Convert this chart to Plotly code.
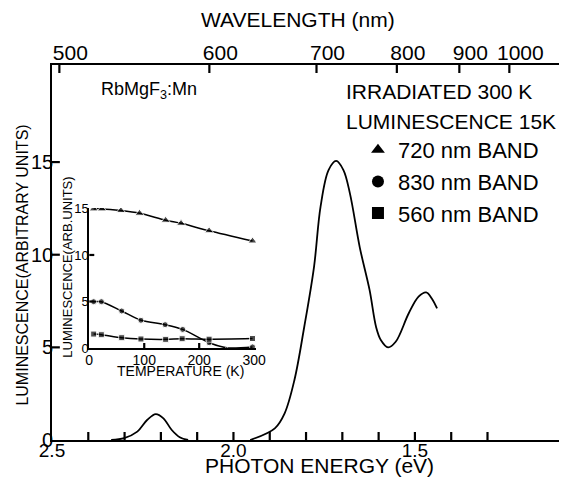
import plotly.graph_objects as go

# ---- main spectrum (photon energy eV, luminescence arb. units) ----
small_energy = [2.337, 2.301, 2.265, 2.238, 2.214, 2.193, 2.170, 2.148, 2.125]
small_lum = [0.0, 0.1, 0.45, 1.08, 1.4, 1.17, 0.54, 0.15, 0.0]

main_energy = [1.954, 1.886, 1.859, 1.832, 1.805, 1.778, 1.760, 1.738, 1.717,
               1.697, 1.679, 1.652, 1.625, 1.607, 1.594, 1.574, 1.553, 1.517,
               1.490, 1.469, 1.454, 1.439]
main_lum = [0.0, 0.63, 1.44, 3.24, 6.1, 9.35, 12.6, 14.57, 15.06,
            14.57, 13.3, 10.4, 8.1, 6.1, 5.4, 5.0, 5.3, 6.84,
            7.74, 7.97, 7.65, 7.1]

energy_ticks = [2.5, 2.4, 2.3, 2.2, 2.1, 2.0, 1.9, 1.8, 1.7, 1.6, 1.5, 1.4, 1.3]
energy_labels = {2.5: "2.5", 2.0: "2.0", 1.5: "1.5"}
wavelength_ticks = [500, 600, 700, 800, 900, 1000]
lum_ticks = [0, 5, 10, 15]
energy_range = [2.5, 1.103]
lum_range = [0, 20.24]

# ---- inset: temperature dependence ----
t720 = [8, 23, 57.5, 91.5, 139, 167, 218, 297]
v720 = [14.95, 14.95, 14.77, 14.48, 13.73, 13.4, 12.6, 11.5]
t830 = [8, 22, 59, 94, 138, 170, 218, 250, 297]
v830 = [4.98, 4.98, 3.98, 2.98, 2.51, 2.0, 0.57, 0.03, 0.12]
t560 = [8, 22, 59, 94, 139, 169, 218, 297]
v560 = [1.5, 1.43, 1.11, 0.97, 0.93, 1.0, 0.95, 1.02]
temp_ticks = [0, 100, 200, 300]
inset_lum_ticks = [0, 5, 10, 15]
temp_range = [0, 303]
inset_lum_range = [0, 15.05]

FONT = "Liberation Sans, Arial, sans-serif"
BLACK = "#000000"
wl_energy = [1239.84 / w for w in wavelength_ticks]

fig = go.Figure()

fig.add_trace(go.Scatter(x=small_energy, y=small_lum, mode="lines",
                         line=dict(color=BLACK, width=1.8, shape="spline"),
                         showlegend=False, hoverinfo="skip"))
fig.add_trace(go.Scatter(x=main_energy, y=main_lum, mode="lines",
                         line=dict(color=BLACK, width=1.8, shape="spline"),
                         showlegend=False, hoverinfo="skip"))
# invisible trace to activate the top wavelength axis
fig.add_trace(go.Scatter(x=[main_energy[0]], y=[0], xaxis="x2", mode="markers",
                         marker=dict(opacity=0), showlegend=False, hoverinfo="skip"))

series = [
    ("720 nm BAND", t720, v720, "triangle-up", 8),
    ("830 nm BAND", t830, v830, "circle", 6),
    ("560 nm BAND", t560, v560, "square", 6),
]
for name, t, v, sym, sz in series:
    sizes = [sz] * len(t)
    if name.startswith("830"):
        sizes[7] = 2
    fig.add_trace(go.Scatter(x=t, y=v, xaxis="x3", yaxis="y3", mode="lines+markers",
                             line=dict(color=BLACK, width=1.5, shape="spline", smoothing=0.8),
                             marker=dict(symbol=sym, size=sizes, color=BLACK),
                             showlegend=False, hoverinfo="skip"))
    fig.add_trace(go.Scatter(x=[None], y=[None], xaxis="x3", yaxis="y3", mode="markers",
                             marker=dict(symbol=sym, size=6, color=BLACK),
                             name=name, legendgroup=name))

# ---- inward tick marks, placed through the axes' own scales ----
TICK = dict(color=BLACK, width=2.2)
MAIN_W, MAIN_H = 517, 375
TL = 8
for e in energy_ticks[1:]:          # bottom, pointing up
    fig.add_shape(type="line", xref="x", yref="y domain", x0=e, x1=e,
                  y0=0, y1=TL / MAIN_H, line=TICK)
for e in wl_energy:                 # top, pointing down
    fig.add_shape(type="line", xref="x", yref="y domain", x0=e, x1=e,
                  y0=1, y1=1 - TL / MAIN_H, line=TICK)
for v in lum_ticks[1:]:             # left, pointing right
    fig.add_shape(type="line", xref="x domain", yref="y", x0=0, x1=TL / MAIN_W,
                  y0=v, y1=v, line=TICK)
for t in temp_ticks[1:3]:           # inset bottom
    fig.add_shape(type="line", xref="x3", yref="y3 domain", x0=t, x1=t,
                  y0=0, y1=0.035, line=TICK)
for v in inset_lum_ticks[1:3]:      # inset left
    fig.add_shape(type="line", xref="x3 domain", yref="y3", x0=0, x1=0.03,
                  y0=v, y1=v, line=TICK)

axis_common = dict(showgrid=False, zeroline=False, showline=True, linecolor=BLACK,
                   linewidth=1.7, ticks="", tickmode="array")

fig.update_layout(
    width=569, height=483,
    margin=dict(l=52, r=0, t=65, b=43),
    paper_bgcolor="white", plot_bgcolor="white",
    font=dict(family=FONT, color=BLACK),
    xaxis=dict(**axis_common, range=energy_range, tickvals=energy_ticks,
               ticktext=[energy_labels.get(t, "") for t in energy_ticks],
               tickfont=dict(size=19), ticklabelstandoff=-8, anchor="y"),
    xaxis2=dict(**axis_common, overlaying="x", side="top", anchor="y",
                range=energy_range, tickvals=wl_energy,
                ticktext=[str(w) for w in wavelength_ticks],
                tickfont=dict(size=21), ticklabelstandoff=-5, ticklabelshift=-11),
    yaxis=dict(**axis_common, range=lum_range, tickvals=lum_ticks,
               tickfont=dict(size=20), ticklabelstandoff=-7),
    xaxis3=dict(**axis_common, domain=[0.0735, 0.402], anchor="y3",
                range=temp_range, tickvals=temp_ticks, tickfont=dict(size=14),
                ticklabelstandoff=-2),
    yaxis3=dict(**axis_common, domain=[0.2453, 0.6187], anchor="x3",
                range=inset_lum_range, tickvals=inset_lum_ticks,
                tickfont=dict(size=13), ticklabelstandoff=-4),
    legend=dict(x=(364 - 52) / 517, y=(440 - 129) / 375, xanchor="left", yanchor="top",
                font=dict(size=22), bgcolor="rgba(0,0,0,0)", tracegroupgap=0,
                itemsizing="constant"),
)

ann = [
    dict(text="WAVELENGTH (nm)", x=303, y=20, size=21, angle=0),
    dict(text="PHOTON ENERGY (eV)", x=325, y=465, size=21, angle=0),
    dict(text="LUMINESCENCE(ARBITRARY UNITS)", x=21, y=265, size=16, angle=-90),
    dict(text="LUMINESCENCE(ARB.UNITS)", x=67, y=267, size=13, angle=-90),
    dict(text="TEMPERATURE (K)", x=183, y=371, size=14, angle=0),
]
for a in ann:
    fig.add_annotation(text=a["text"], xref="paper", yref="paper",
                       x=(a["x"] - 52) / 517, y=(440 - a["y"]) / 375,
                       xanchor="center", yanchor="middle", showarrow=False,
                       textangle=a["angle"], font=dict(size=a["size"], family=FONT))

for text, x, y, size in [("RbMgF<sub>3</sub>:Mn", 100, 90, 18),
                         ("IRRADIATED 300 K", 350, 92, 21),
                         ("LUMINESCENCE 15K", 350, 121, 21)]:
    fig.add_annotation(text=text, xref="paper", yref="paper",
                       x=(x - 52) / 517, y=(440 - y) / 375,
                       xanchor="left", yanchor="middle", showarrow=False,
                       font=dict(size=size, family=FONT))

fig.write_html("out.html")
